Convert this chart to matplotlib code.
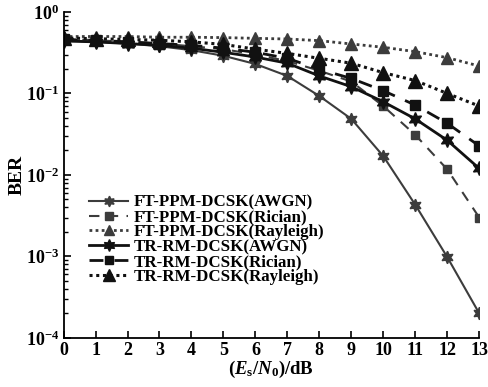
import matplotlib
matplotlib.use("Agg")
import matplotlib.pyplot as plt
from matplotlib.ticker import LogLocator, NullFormatter

plt.rcParams['font.family'] = ['Liberation Serif', 'DejaVu Serif']
plt.rcParams['font.weight'] = 'bold'
plt.rcParams['mathtext.fontset'] = 'custom'
plt.rcParams['mathtext.rm'] = 'Liberation Serif:bold'
plt.rcParams['mathtext.it'] = 'Liberation Serif:italic:bold'
plt.rcParams['mathtext.bf'] = 'Liberation Serif:bold'

snr = list(range(14))
ft_awgn = [0.45, 0.43, 0.41, 0.38, 0.34, 0.29, 0.23, 0.164, 0.093, 0.0487, 0.0170, 0.0043, 0.00098, 0.0002]
ft_rician = [0.47, 0.45, 0.43, 0.41, 0.38, 0.35, 0.30, 0.25, 0.19, 0.14, 0.070, 0.031, 0.0117, 0.0030]
ft_rayleigh = [0.50, 0.50, 0.50, 0.49, 0.49, 0.485, 0.475, 0.466, 0.445, 0.405, 0.369, 0.326, 0.275, 0.217]
tr_awgn = [0.44, 0.43, 0.41, 0.39, 0.36, 0.32, 0.28, 0.235, 0.164, 0.121, 0.079, 0.0487, 0.0266, 0.0120]
tr_rician = [0.46, 0.45, 0.43, 0.41, 0.39, 0.36, 0.32, 0.27, 0.198, 0.153, 0.108, 0.072, 0.043, 0.0227]
tr_rayleigh = [0.48, 0.47, 0.46, 0.45, 0.43, 0.40, 0.35, 0.31, 0.27, 0.235, 0.18, 0.144, 0.10, 0.070]

labels = ['FT-PPM-DCSK(AWGN)', 'FT-PPM-DCSK(Rician)', 'FT-PPM-DCSK(Rayleigh)',
          'TR-RM-DCSK(AWGN)', 'TR-RM-DCSK(Rician)', 'TR-RM-DCSK(Rayleigh)']

fig = plt.figure(figsize=(4.89, 3.87), dpi=100)
ax = fig.add_axes([0.130, 0.127, 0.850, 0.842])

gray = '#3c3c3c'
blk = '#111111'
star6 = (6, 1, 0)
ax.plot(snr, ft_awgn, color=gray, ls='-', lw=1.5, marker=star6, ms=9, label=labels[0])
ax.plot(snr, ft_rician, color=gray, ls=(0, (5, 4)), lw=1.5, marker='s', ms=6, label=labels[1])
ax.plot(snr, ft_rayleigh, color=gray, ls=(0, (1, 1.2)), lw=2.0, marker='^', ms=9, label=labels[2])
ax.plot(snr, tr_awgn, color=blk, ls='-', lw=2.0, marker=star6, ms=10, label=labels[3])
ax.plot(snr, tr_rician, color=blk, ls=(0, (5, 4)), lw=2.0, marker='s', ms=6.5, label=labels[4])
ax.plot(snr, tr_rayleigh, color=blk, ls=(0, (1, 1.2)), lw=2.2, marker='^', ms=9.5, label=labels[5])

ax.set_yscale('log')
ax.set_ylim(1e-4, 1)
ax.set_xlim(0, 13)
ax.set_xticks(range(14))
ax.yaxis.set_major_locator(LogLocator(base=10, numticks=10))
ax.yaxis.set_minor_locator(LogLocator(base=10, subs=range(2, 10), numticks=20))
ax.yaxis.set_minor_formatter(NullFormatter())

for s in ['top', 'right']:
    ax.spines[s].set_visible(False)
for s in ['left', 'bottom']:
    ax.spines[s].set_linewidth(1.3)
ax.tick_params(axis='both', which='major', direction='in', length=5, width=1.2, labelsize=13, pad=3)
ax.tick_params(axis='y', which='minor', direction='in', length=3, width=1.0)
for lbl in ax.get_xticklabels() + ax.get_yticklabels():
    lbl.set_fontweight('bold')

ax.set_xlabel(r'$(E_\mathrm{s}/N_0)$/dB', fontsize=13.5, fontweight='bold', labelpad=0)
ax.set_ylabel('BER', fontsize=14, fontweight='bold', labelpad=0)

leg = ax.legend(loc='upper left', bbox_to_anchor=(0.045, 0.46), frameon=False, numpoints=1,
                handlelength=2.3, handletextpad=0.35, labelspacing=-0.07, borderaxespad=0,
                markerscale=0.85,
                prop={'family': 'Liberation Serif', 'weight': 'bold', 'size': 12.2})

fig.savefig('out.png', dpi=100)
